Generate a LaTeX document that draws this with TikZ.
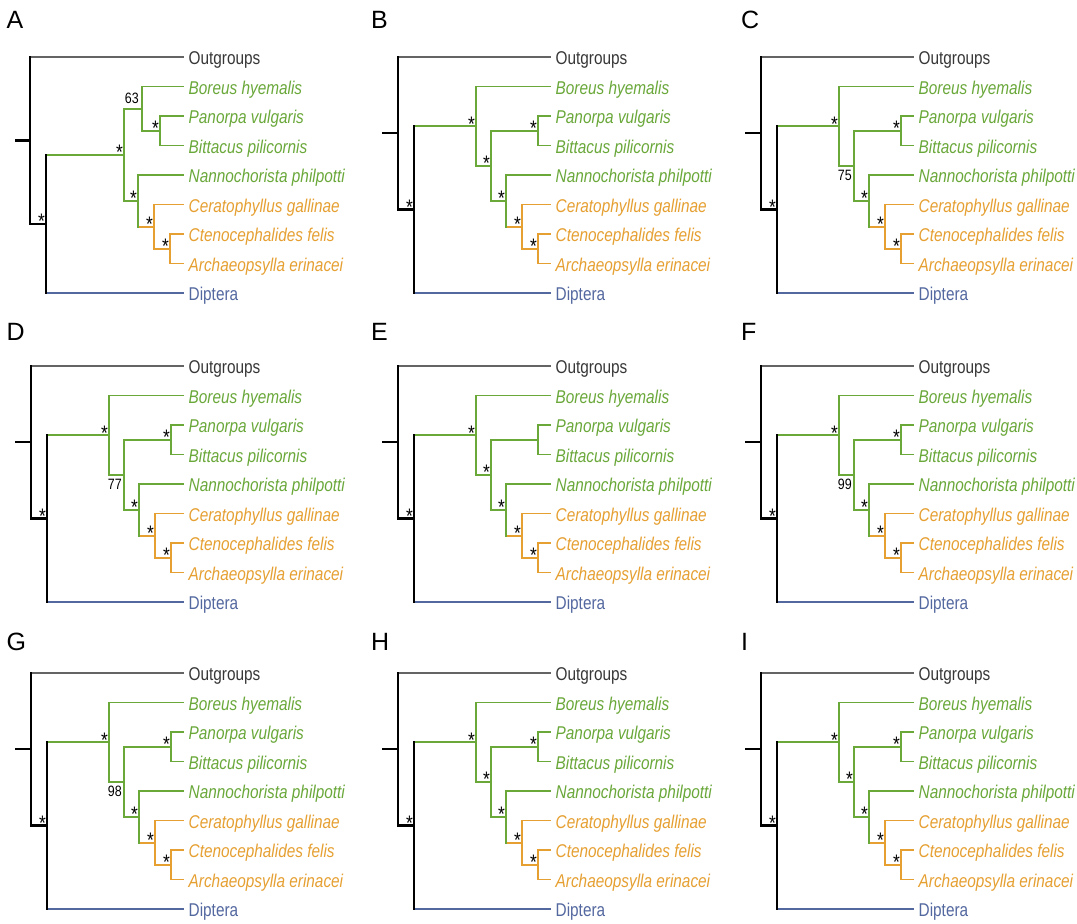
\documentclass[tikz,border=0pt]{standalone}
\usepackage{fontspec}
\setmainfont{Liberation Sans}[FakeStretch=0.83]
\newfontfamily\letterfont{Liberation Sans}
\usetikzlibrary{calc}

\definecolor{cgreen}{RGB}{106,168,58}
\definecolor{corange}{RGB}{230,160,50}
\definecolor{cblue}{RGB}{84,104,160}
\definecolor{cgray}{RGB}{100,100,100}
\definecolor{ctext}{RGB}{55,55,55}

\tikzset{
  blk/.style={draw=black, line width=2.2pt},
  grn/.style={draw=cgreen, line width=1.8pt},
  org/.style={draw=corange, line width=1.8pt},
  gry/.style={draw=cgray, line width=1.5pt},
  blu/.style={draw=cblue, line width=1.4pt},
  vbar/.style={line cap=rect},
  taxon/.style={anchor=base west, inner sep=0pt, font=\fontsize{18.5pt}{20pt}\selectfont},
  taxit/.style={taxon, font=\fontsize{18.5pt}{20pt}\selectfont\itshape},
  supstar/.style={anchor=base, inner sep=0pt, font=\fontsize{21pt}{22pt}\selectfont},
  bsv/.style={anchor=base east, inner sep=0pt, font=\fontsize{15pt}{16pt}\selectfont},
  panelletter/.style={anchor=base west, inner sep=0pt, font=\fontsize{25pt}{28pt}\letterfont},
}

\newcommand\tipset[1]{%
  \coordinate (#1t0) at (183.5,57);
  \coordinate (#1t1) at (183.5,86.5);
  \coordinate (#1t2) at (183.5,116);
  \coordinate (#1t3) at (183.5,145.5);
  \coordinate (#1t4) at (183.5,175);
  \coordinate (#1t5) at (183.5,204.5);
  \coordinate (#1t6) at (183.5,234);
  \coordinate (#1t7) at (183.5,263.5);
  \coordinate (#1t8) at (183.5,293);
  \node[taxon, text=ctext] (#1x0) at ([shift={(5pt,-7.5pt)}]#1t0) {Outgroups};
  \node[taxit, text=cgreen] (#1x1) at ([shift={(5pt,-7.5pt)}]#1t1) {Boreus hyemalis};
  \node[taxit, text=cgreen] (#1x2) at ([shift={(5pt,-7.5pt)}]#1t2) {Panorpa vulgaris};
  \node[taxit, text=cgreen] (#1x3) at ([shift={(5pt,-7.5pt)}]#1t3) {Bittacus pilicornis};
  \node[taxit, text=cgreen] (#1x4) at ([shift={(5pt,-7.5pt)}]#1t4) {Nannochorista philpotti};
  \node[taxit, text=corange] (#1x5) at ([shift={(5pt,-7.5pt)}]#1t5) {Ceratophyllus gallinae};
  \node[taxit, text=corange] (#1x6) at ([shift={(5pt,-7.5pt)}]#1t6) {Ctenocephalides felis};
  \node[taxit, text=corange] (#1x7) at ([shift={(5pt,-7.5pt)}]#1t7) {Archaeopsylla erinacei};
  \node[taxon, text=cblue] (#1x8) at ([shift={(5pt,-7.5pt)}]#1t8) {Diptera};
}

\newcommand\commonedges[1]{%
  \draw[blk] (#1s) -- (#1r);
  \draw[gry] (#1r |- #1t0) -- (#1t0);
  \draw[blk] (#1r |- #1n1) -- (#1n1);
  \draw[blk,vbar] (#1r |- #1t0) -- (#1r |- #1n1);
  \draw[grn] (#1n1 |- #1n2) -- (#1n2);
  \draw[blu] (#1n1 |- #1t8) -- (#1t8);
  \draw[blk,vbar] (#1n1 |- #1n2) -- (#1n1 |- #1t8);
  \draw[grn] (#1n4 |- #1t2) -- (#1t2);
  \draw[grn] (#1n4 |- #1t3) -- (#1t3);
  \draw[grn,vbar] (#1n4 |- #1t2) -- (#1n4 |- #1t3);
  \draw[grn] (#1n5 |- #1t4) -- (#1t4);
  \draw[org] (#1n5 |- #1n6) -- (#1n6);
  \draw[grn,vbar] (#1n5 |- #1t4) -- (#1n5 |- #1n6);
  \draw[org] (#1n6 |- #1t5) -- (#1t5);
  \draw[org] (#1n6 |- #1n7) -- (#1n7);
  \draw[org,vbar] (#1n6 |- #1t5) -- (#1n6 |- #1n7);
  \draw[org] (#1n7 |- #1t6) -- (#1t6);
  \draw[org] (#1n7 |- #1t7) -- (#1t7);
  \draw[org,vbar] (#1n7 |- #1t6) -- (#1n7 |- #1t7);
}

\newcommand\st[2]{\node[supstar] (#1) at ([shift={(-4.5pt,-5pt)}]#2) {*};}
\newcommand\bsnum[3]{\node[bsv] (#1) at ([shift={(-2pt,-15pt)}]#2) {#3};}

% standard panel: #1 name, #2 xshift, #3 yshift, #4 n3 decoration, #5 n4 decoration
\newcommand\stdpanel[5]{%
  \begin{scope}[shift={(#2,#3)}]
    \tipset{#1}
    \coordinate (#1s) at (15,133.29);
    \coordinate (#1r) at (31,133.29);
    \coordinate (#1n1) at (47,209.57);
    \coordinate (#1n2) at (109,126.14);
    \coordinate (#1n3) at (124,165.78);
    \coordinate (#1n4) at (171,130.75);
    \coordinate (#1n5) at (139,200.81);
    \coordinate (#1n6) at (155,226.63);
    \coordinate (#1n7) at (171,248.75);
    \draw[grn] (#1n2 |- #1t1) -- (#1t1);
    \draw[grn] (#1n2 |- #1n3) -- (#1n3);
    \draw[grn,vbar] (#1n2 |- #1t1) -- (#1n2 |- #1n3);
    \draw[grn] (#1n3 |- #1n4) -- (#1n4);
    \draw[grn] (#1n3 |- #1n5) -- (#1n5);
    \draw[grn,vbar] (#1n3 |- #1n4) -- (#1n3 |- #1n5);
    \commonedges{#1}
    \st{#1n1s}{#1n1}
    \st{#1n2s}{#1n2}
    #4
    #5
    \st{#1n5s}{#1n5}
    \st{#1n6s}{#1n6}
    \st{#1n7s}{#1n7}
  \end{scope}
}

\begin{document}
\begin{tikzpicture}[x=1pt,y=-1pt]
\fill[white] (0,0) rectangle (1077,924);
\useasboundingbox (0,0) rectangle (1077,924);

% panel letters
\node[panelletter] (LA) at (6.5,28) {A};
\node[panelletter] (LB) at (371,28) {B};
\node[panelletter] (LC) at (741,28) {C};
\node[panelletter] (LD) at (6.5,340) {D};
\node[panelletter] (LE) at (371,340) {E};
\node[panelletter] (LF) at (741,340) {F};
\node[panelletter] (LG) at (6.5,650) {G};
\node[panelletter] (LH) at (371,650) {H};
\node[panelletter] (LI) at (741,650) {I};

% panel A
\begin{scope}
  \tipset{A}
  \coordinate (As) at (15,140.43);
  \coordinate (Ar) at (30,140.43);
  \coordinate (An1) at (46,223.86);
  \coordinate (An2) at (124,154.72);
  \coordinate (An3) at (142,108.63);
  \coordinate (An4) at (160,130.75);
  \coordinate (An5) at (138,200.81);
  \coordinate (An6) at (154,226.63);
  \coordinate (An7) at (170,248.75);
  \draw[grn] (An2 |- An3) -- (An3);
  \draw[grn] (An2 |- An5) -- (An5);
  \draw[grn,vbar] (An2 |- An3) -- (An2 |- An5);
  \draw[grn] (An3 |- At1) -- (At1);
  \draw[grn] (An3 |- An4) -- (An4);
  \draw[grn,vbar] (An3 |- At1) -- (An3 |- An4);
  \commonedges{A}
  \st{An1s}{An1}
  \st{An2s}{An2}
  \node[bsv] (An3v) at ([shift={(-3pt,5.6pt)}]An3) {63};
  \st{An4s}{An4}
  \st{An5s}{An5}
  \st{An6s}{An6}
  \st{An7s}{An7}
\end{scope}

\stdpanel{B}{367}{0}{\st{Bn3s}{Bn3}}{\st{Bn4s}{Bn4}}
\stdpanel{C}{730}{0}{\bsnum{Cn3v}{Cn3}{75}}{\st{Cn4s}{Cn4}}
\stdpanel{D}{0}{309}{\bsnum{Dn3v}{Dn3}{77}}{\st{Dn4s}{Dn4}}
\stdpanel{E}{367}{309}{\st{En3s}{En3}}{}
\stdpanel{F}{730}{309}{\bsnum{Fn3v}{Fn3}{99}}{\st{Fn4s}{Fn4}}
\stdpanel{G}{0}{616}{\bsnum{Gn3v}{Gn3}{98}}{\st{Gn4s}{Gn4}}
\stdpanel{H}{367}{616}{\st{Hn3s}{Hn3}}{\st{Hn4s}{Hn4}}
\stdpanel{I}{730}{616}{\st{In3s}{In3}}{\st{In4s}{In4}}
\end{tikzpicture}
\end{document}
